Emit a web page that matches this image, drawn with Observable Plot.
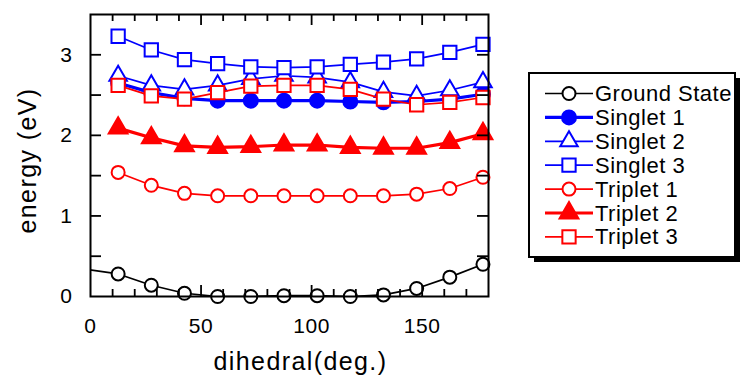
<!DOCTYPE html>
<html><head><meta charset="utf-8">
<script src="https://cdn.jsdelivr.net/npm/d3@7"></script>
<script src="https://cdn.jsdelivr.net/npm/@observablehq/plot@0.6"></script>
<style>
body{margin:0;background:#fff}
#wrap{position:relative;width:740px;height:376px;font-family:"Liberation Sans",Arial,sans-serif}
</style>
</head><body><div id="wrap"></div>
<script>
// ---- data ----
const dihedral = [12.5, 27.5, 42.5, 57.5, 72.5, 87.5, 102.5, 117.5, 132.5, 147.5, 162.5, 177.5];
const groundState = [0.28, 0.14, 0.04, 0.00, 0.00, 0.01, 0.01, 0.00, 0.02, 0.10, 0.24, 0.40];
const groundLeadDihedral = -2.5;   // preceding point just outside the axis (line only)
const groundLeadEnergy = 0.34;
const singlet1 = [2.65, 2.53, 2.46, 2.43, 2.43, 2.43, 2.43, 2.42, 2.41, 2.42, 2.45, 2.51];
const singlet2 = [2.74, 2.62, 2.57, 2.62, 2.70, 2.74, 2.72, 2.66, 2.54, 2.49, 2.56, 2.66];
const singlet3 = [3.23, 3.06, 2.94, 2.89, 2.85, 2.84, 2.85, 2.88, 2.91, 2.95, 3.03, 3.13];
const triplet1 = [1.54, 1.38, 1.28, 1.25, 1.25, 1.25, 1.25, 1.25, 1.25, 1.27, 1.34, 1.48];
const triplet2 = [2.09, 1.97, 1.87, 1.85, 1.86, 1.88, 1.88, 1.85, 1.84, 1.84, 1.91, 2.02];
const triplet3 = [2.62, 2.49, 2.45, 2.53, 2.61, 2.62, 2.62, 2.57, 2.45, 2.38, 2.41, 2.47];
const seriesNames = ["Ground State", "Singlet 1", "Singlet 2", "Singlet 3", "Triplet 1", "Triplet 2", "Triplet 3"];
const seriesValues = [groundState, singlet1, singlet2, singlet3, triplet1, triplet2, triplet3];
const xTickLabels = [0, 50, 100, 150];
const yTickLabels = [0, 1, 2, 3];

// ---- styles ----
const BLUE = "#0000ff", RED = "#ff0000";
const styles = {
  "Ground State": {color: "black", symbol: "circle",   filled: false, lw: 1.7, r: 6.5},
  "Singlet 1":    {color: BLUE,    symbol: "circle",   filled: true,  lw: 3.2, r: 7},
  "Singlet 2":    {color: BLUE,    symbol: "triangle", filled: false, lw: 1.7, r: 6.5},
  "Singlet 3":    {color: BLUE,    symbol: "square",   filled: false, lw: 1.7, r: 7.5},
  "Triplet 1":    {color: RED,     symbol: "circle",   filled: false, lw: 1.7, r: 6.5},
  "Triplet 2":    {color: RED,     symbol: "triangle", filled: true,  lw: 3.2, r: 7},
  "Triplet 3":    {color: RED,     symbol: "square",   filled: false, lw: 1.7, r: 7.5}
};

const marks = [];
seriesNames.forEach((name, i) => {
  const st = styles[name];
  const rows = dihedral.map((d, j) => ({dihedral: d, energy: seriesValues[i][j]}));
  const lineRows = name === "Ground State"
    ? [{dihedral: groundLeadDihedral, energy: groundLeadEnergy}, ...rows] : rows;
  marks.push(Plot.line(lineRows, {x: "dihedral", y: "energy", stroke: st.color, strokeWidth: st.lw, clip: true}));
  marks.push(Plot.dot(rows, {x: "dihedral", y: "energy", symbol: st.symbol, r: st.r,
    fill: st.filled ? st.color : "white", stroke: st.color, strokeWidth: 2}));
});

const xMajor = [50, 100, 150];
const xMinor = d3.range(10, 180, 10).filter(v => v % 50 !== 0);
const yTicks = d3.range(0.5, 3.5, 0.5);

const chart = Plot.plot({
  width: 740, height: 376,
  marginLeft: 90, marginRight: 252, marginTop: 14, marginBottom: 80,
  x: {domain: [0, 180]},
  y: {domain: [0, 3.5]},
  style: {fontFamily: '"Liberation Sans", Arial, sans-serif', background: "white", color: "black"},
  marks: [
    ...marks,
    // inward ticks
    Plot.ruleX(xMajor, {x: d => d, y1: 0, y2: 0, insetTop: -11, strokeWidth: 1.8}),
    Plot.ruleX(xMinor, {x: d => d, y1: 0, y2: 0, insetTop: -7, strokeWidth: 1.8}),
    Plot.ruleX(xMajor, {x: d => d, y1: 3.5, y2: 3.5, insetBottom: -11, strokeWidth: 1.8}),
    Plot.ruleX(xMinor, {x: d => d, y1: 3.5, y2: 3.5, insetBottom: -7, strokeWidth: 1.8}),
    Plot.ruleY(yTicks, {y: d => d, x1: 0, x2: 0, insetRight: -11, strokeWidth: 1.8}),
    Plot.ruleY(yTicks, {y: d => d, x1: 180, x2: 180, insetLeft: -11, strokeWidth: 1.8}),
    Plot.frame({stroke: "black", strokeWidth: 2}),
    Plot.axisX({ticks: xTickLabels, tickFormat: d => String(d), tickSize: 0, tickPadding: 22, fontSize: 21, label: null}),
    Plot.axisY({ticks: yTickLabels, tickFormat: d => String(d), tickSize: 0, tickPadding: 18, fontSize: 21, label: null}),
    Plot.text(["dihedral(deg.)"], {frameAnchor: "bottom", textAnchor: "middle", lineAnchor: "bottom", dx: 11, dy: 73, fontSize: 25}),
    Plot.text(["energy (eV)"], {frameAnchor: "left", textAnchor: "middle", lineAnchor: "bottom", rotate: -90, dx: -55, dy: 5, fontSize: 25})
  ]
});
document.getElementById("wrap").appendChild(chart);
d3.select(chart).selectAll("g[aria-label='text'] text").style("letter-spacing", "1.4px");
d3.select(chart).selectAll("g[aria-label='x-axis tick label'] text, g[aria-label='y-axis tick label'] text").style("letter-spacing", "0.6px");

// ---- legend ----
const leg = d3.select("#wrap").append("svg")
  .attr("width", 740).attr("height", 376)
  .style("position", "absolute").style("left", "0px").style("top", "0px");
const bx = 529, by = 73, bw = 206, bh = 184;
leg.append("rect").attr("x", bx + 5).attr("y", by + 5).attr("width", bw).attr("height", bh).attr("fill", "black");
leg.append("rect").attr("x", bx).attr("y", by).attr("width", bw).attr("height", bh)
  .attr("fill", "white").attr("stroke", "black").attr("stroke-width", 2);
const symType = {circle: d3.symbolCircle, square: d3.symbolSquare, triangle: d3.symbolTriangle};
seriesNames.forEach((name, i) => {
  const st = styles[name];
  const cy = 93.5 + i * 23.9;
  const g = leg.append("g");
  g.append("line").attr("x1", 545).attr("x2", 593).attr("y1", cy).attr("y2", cy)
    .attr("stroke", st.color).attr("stroke-width", st.lw);
  g.append("path").attr("transform", `translate(569,${cy})`)
    .attr("d", d3.symbol(symType[st.symbol], Math.PI * st.r * st.r)())
    .attr("fill", st.filled ? st.color : "white").attr("stroke", st.color).attr("stroke-width", 2);
  g.append("text").attr("x", 595).attr("y", cy + 7.5)
    .attr("font-size", 22).attr("letter-spacing", "0.5px")
    .attr("font-family", '"Liberation Sans", Arial, sans-serif')
    .attr("fill", "black").text(name);
});
</script>
</body></html>
